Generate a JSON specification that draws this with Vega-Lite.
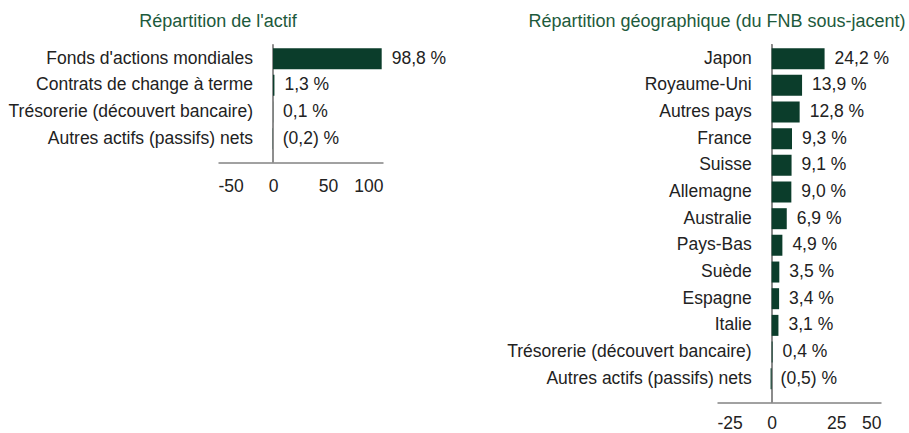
{
  "$schema": "https://vega.github.io/schema/vega-lite/v6.json",
  "background": "white",
  "padding": {"left": 8, "top": 12.5, "right": 5, "bottom": 0},
  "config": {
    "view": {"stroke": null},
    "font": "Liberation Sans",
    "title": {"fontSize": 18, "fontWeight": "normal", "color": "#1d5a3c", "font": "Liberation Sans", "anchor": "start", "frame": "group", "baseline": "alphabetic", "offset": 13},
    "axisX": {"grid": false, "ticks": false, "domainColor": "#444444", "labelFontSize": 17.5, "labelColor": "#222222", "labelPadding": 15, "title": null, "labelFont": "Liberation Sans", "labelExpr": "replace(datum.label, '−', '-')"}
  },
  "datasets": {
    "actif": [
      {"categorie": "Fonds d'actions mondiales", "valeur": 98.8, "etiquette": "98,8 %"},
      {"categorie": "Contrats de change à terme", "valeur": 1.3, "etiquette": "1,3 %"},
      {"categorie": "Trésorerie (découvert bancaire)", "valeur": 0.1, "etiquette": "0,1 %"},
      {"categorie": "Autres actifs (passifs) nets", "valeur": -0.2, "etiquette": "(0,2) %"}
    ],
    "geo": [
      {"categorie": "Japon", "valeur": 24.2, "etiquette": "24,2 %"},
      {"categorie": "Royaume-Uni", "valeur": 13.9, "etiquette": "13,9 %"},
      {"categorie": "Autres pays", "valeur": 12.8, "etiquette": "12,8 %"},
      {"categorie": "France", "valeur": 9.3, "etiquette": "9,3 %"},
      {"categorie": "Suisse", "valeur": 9.1, "etiquette": "9,1 %"},
      {"categorie": "Allemagne", "valeur": 9.0, "etiquette": "9,0 %"},
      {"categorie": "Australie", "valeur": 6.9, "etiquette": "6,9 %"},
      {"categorie": "Pays-Bas", "valeur": 4.9, "etiquette": "4,9 %"},
      {"categorie": "Suède", "valeur": 3.5, "etiquette": "3,5 %"},
      {"categorie": "Espagne", "valeur": 3.4, "etiquette": "3,4 %"},
      {"categorie": "Italie", "valeur": 3.1, "etiquette": "3,1 %"},
      {"categorie": "Trésorerie (découvert bancaire)", "valeur": 0.4, "etiquette": "0,4 %"},
      {"categorie": "Autres actifs (passifs) nets", "valeur": -0.5, "etiquette": "(0,5) %"}
    ]
  },
  "spacing": 60,
  "hconcat": [
    {
      "width": 165,
      "height": 118,
      "title": {"text": "Répartition de l'actif", "align": "center", "anchor": "start"},
      "data": {"name": "actif"},
      "layer": [
        {
          "mark": {"type": "rule", "color": "#8c8c8c", "strokeWidth": 1.2},
          "encoding": {"x": {"datum": 0, "type": "quantitative", "scale": {"domain": [-50, 100], "nice": false}}}
        },
        {
          "mark": {"type": "bar", "color": "#0b3d2b"},
          "encoding": {
            "x": {"field": "valeur", "type": "quantitative", "scale": {"domain": [-50, 100], "nice": false}, "axis": {"values": [-50, 0, 50, 100]}},
            "y": {"field": "categorie", "type": "nominal", "sort": null, "axis": null, "scale": {"paddingInner": 0.2125, "paddingOuter": 0.319, "align": 0.218}}
          }
        },
        {
          "mark": {"type": "text", "align": "right", "baseline": "middle", "dx": -20, "fontSize": 17.5, "color": "#222222"},
          "encoding": {
            "x": {"datum": 0, "type": "quantitative", "scale": {"domain": [-50, 100], "nice": false}},
            "y": {"field": "categorie", "type": "nominal", "sort": null, "axis": null},
            "text": {"field": "categorie"}
          }
        },
        {
          "mark": {"type": "text", "align": "left", "baseline": "middle", "dx": 10, "fontSize": 17.5, "color": "#222222"},
          "encoding": {
            "x": {"field": "valeur", "type": "quantitative", "scale": {"domain": [-50, 100], "nice": false}},
            "y": {"field": "categorie", "type": "nominal", "sort": null, "axis": null},
            "text": {"field": "etiquette"}
          }
        }
      ]
    },
    {
      "width": 164,
      "height": 358,
      "title": {"text": "Répartition géographique (du FNB sous-jacent)", "align": "center", "anchor": "start"},
      "data": {"name": "geo"},
      "layer": [
        {
          "mark": {"type": "rule", "color": "#8c8c8c", "strokeWidth": 1.2},
          "encoding": {"x": {"datum": 0, "type": "quantitative", "scale": {"domain": [-25, 50], "nice": false}}}
        },
        {
          "mark": {"type": "bar", "color": "#0b3d2b"},
          "encoding": {
            "x": {"field": "valeur", "type": "quantitative", "scale": {"domain": [-25, 50], "nice": false}, "axis": {"values": [-25, 0, 25, 50], "labelPadding": 12, "labelFlush": true, "labelOffset": {"condition": {"test": "datum.value == 25", "value": 10}, "value": 0}}},
            "y": {"field": "categorie", "type": "nominal", "sort": null, "axis": null, "scale": {"paddingInner": 0.2125, "paddingOuter": 0.319, "align": 0.218}}
          }
        },
        {
          "mark": {"type": "text", "align": "right", "baseline": "middle", "dx": -20, "fontSize": 17.5, "color": "#222222"},
          "encoding": {
            "x": {"datum": 0, "type": "quantitative", "scale": {"domain": [-25, 50], "nice": false}},
            "y": {"field": "categorie", "type": "nominal", "sort": null, "axis": null},
            "text": {"field": "categorie"}
          }
        },
        {
          "mark": {"type": "text", "align": "left", "baseline": "middle", "dx": 10, "fontSize": 17.5, "color": "#222222"},
          "encoding": {
            "x": {"field": "valeur", "type": "quantitative", "scale": {"domain": [-25, 50], "nice": false}},
            "y": {"field": "categorie", "type": "nominal", "sort": null, "axis": null},
            "text": {"field": "etiquette"}
          }
        }
      ]
    }
  ]
}
